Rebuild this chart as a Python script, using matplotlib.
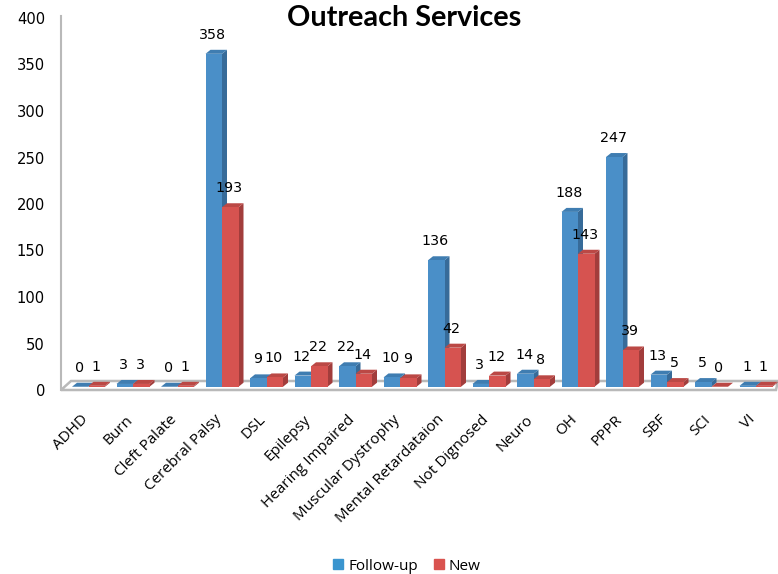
import matplotlib
matplotlib.use("Agg")
import matplotlib.pyplot as plt
from matplotlib.patches import Polygon, Patch
from matplotlib.transforms import ScaledTranslation

categories = ["ADHD", "Burn", "Cleft Palate", "Cerebral Palsy", "DSL", "Epilepsy",
              "Hearing Impaired", "Muscular Dystrophy", "Mental Retardataion",
              "Not Dignosed", "Neuro", "OH", "PPPR", "SBF", "SCI", "VI"]
followup = [0, 3, 0, 358, 9, 12, 22, 10, 136, 3, 14, 188, 247, 13, 5, 1]
new = [1, 3, 1, 193, 10, 22, 14, 9, 42, 12, 8, 143, 39, 5, 0, 1]
yticks = [0, 50, 100, 150, 200, 250, 300, 350, 400]

W, H = 778, 574
fig = plt.figure(figsize=(W / 100, H / 100), dpi=100, facecolor="white")
x0, x1, ytop, ybot = 61, 778, 18, 390
ax = fig.add_axes([x0 / W, 1 - ybot / H, (x1 - x0) / W, (ybot - ytop) / H])
xmin, xmax = (x0 - 88.5) / 44.5, (x1 - 88.5) / 44.5
ax.set_xlim(xmin, xmax)
ax.set_ylim(0, 400)
ax.patch.set_visible(False)

pxx = (xmax - xmin) / (x1 - x0)  # category units per pixel
pxy = 400 / (ybot - ytop)        # value units per pixel
dx, dy = 5 * pxx, 4 * pxy        # depth of the pseudo-3D extrusion
base = 3.5
bw = 16.5 * pxx

GRAY = "#b9b9b9"
ax.add_patch(Polygon([(xmin, 0), (xmin + 10 * pxx, 9 * pxy), (xmax, 9 * pxy), (xmax - 2 * pxx, 0)],
                     closed=True, facecolor="white", edgecolor=GRAY, lw=1.8, zorder=1, clip_on=False))
ax.plot([xmin, xmin], [0, 402], color=GRAY, lw=1.5, zorder=1, clip_on=False)


def draw(xc, v, face, side, top, z):
    l, r, b, t = xc - bw / 2, xc + bw / 2, base, base + v
    ax.bar(xc, v, width=bw, bottom=base, color=face, zorder=z + 0.2, linewidth=0)
    ax.add_patch(Polygon([(r, b), (r + dx, b + dy), (r + dx, t + dy), (r, t)],
                         closed=True, facecolor=side, edgecolor="none", zorder=z))
    ax.add_patch(Polygon([(l, t), (l + dx, t + dy), (r + dx, t + dy), (r, t)],
                         closed=True, facecolor=top, edgecolor="none", zorder=z + 0.1))
    ax.annotate(str(v), (xc, t), xytext=(-1, 12), textcoords="offset pixels", ha="center",
                va="bottom", fontsize=10.3, family="DejaVu Sans", color="black", zorder=50)


for i, (a, b) in enumerate(zip(followup, new)):
    z = 2 + i
    draw(i - bw / 2, a, "#4a8fc8", "#376b99", "#3f7db1", z)
    draw(i + bw / 2, b, "#d65350", "#a23d3c", "#bb4845", z + 0.5)

ax.set_yticks(yticks)
ax.set_xticks(range(len(categories)))
ax.set_xticklabels(categories, rotation=45, ha="right", rotation_mode="anchor",
                   fontsize=11, family="Open Sans")
ax.tick_params(axis="x", length=0, pad=16)
ax.tick_params(axis="y", length=0, pad=11.5, labelsize=10.6)
shift = ScaledTranslation(-8 / 100, 0, fig.dpi_scale_trans)
for t in ax.get_xticklabels():
    t.set_transform(t.get_transform() + shift)
for s in ax.spines.values():
    s.set_visible(False)

fig.text(404 / W, 1 - 18 / H, "Outreach Services", ha="center", va="center",
         fontsize=20.7, fontweight="bold", family="Lato")
fig.legend(handles=[Patch(color="#3a95cf", label="Follow-up"), Patch(color="#d9534f", label="New")],
           loc="center", bbox_to_anchor=(407 / W, 1 - 566 / H), ncol=2, frameon=False,
           prop={"family": "Open Sans", "size": 11}, handlelength=0.65, handleheight=0.65,
           columnspacing=1.05, handletextpad=0.33)
fig.savefig("out.png", dpi=100)
